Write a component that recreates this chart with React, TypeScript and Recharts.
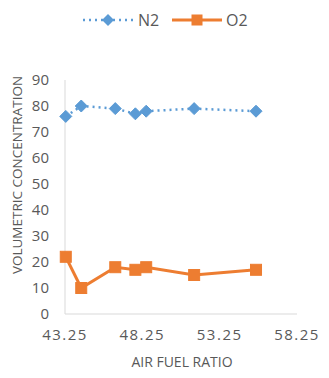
import React from 'react';
import { LineChart, Line, XAxis, YAxis, Legend, Label } from 'recharts';

// air fuel ratio readings
const afr = [43.3, 44.3, 46.5, 47.8, 48.5, 51.6, 55.6];
const n2 = [76, 80, 79, 77, 78, 79, 78];
const o2 = [22, 10, 18, 17, 18, 15, 17];
const xTicks = [43.25, 48.25, 53.25, 58.25];
const yTicks = [0, 10, 20, 30, 40, 50, 60, 70, 80, 90];

const BLUE = '#5B9BD5';
const ORANGE = '#ED7D31';
const GREY = '#595959';
const FONT = '"Open Sans", "Liberation Sans", sans-serif';

const data = afr.map((x, i) => ({ afr: x, N2: n2[i], O2: o2[i] }));

const Diamond = (props: any) => {
  const { cx, cy } = props;
  if (cx == null || cy == null) return null;
  const r = 6;
  return (
    <path
      d={`M${cx},${cy - r}L${cx + r},${cy}L${cx},${cy + r}L${cx - r},${cy}Z`}
      fill={BLUE}
      stroke={BLUE}
    />
  );
};

const Square = (props: any) => {
  const { cx, cy } = props;
  if (cx == null || cy == null) return null;
  const s = 5.5;
  return <rect x={cx - s} y={cy - s} width={s * 2} height={s * 2} fill={ORANGE} stroke={ORANGE} />;
};

const renderLegend = () => (
  <svg width={329} height={24} style={{ display: 'block' }}>
    <line x1={83} y1={12} x2={135} y2={12} stroke={BLUE} strokeWidth={2.5} strokeDasharray="2 4" />
    <path d="M108,6L114,12L108,18L102,12Z" fill={BLUE} />
    <text x={138} y={18} fontSize={16} fill={GREY} fontFamily={FONT}>N2</text>
    <line x1={172} y1={12} x2={222} y2={12} stroke={ORANGE} strokeWidth={3} />
    <rect x={191.5} y={6.5} width={11} height={11} fill={ORANGE} />
    <text x={226} y={18} fontSize={16} fill={GREY} fontFamily={FONT}>O2</text>
  </svg>
);

export default function App() {
  return (
    <div style={{ position: 'absolute', left: 0, top: 0, background: '#fff' }}>
      <LineChart
        width={329}
        height={378}
        data={data}
        margin={{ top: 56, right: 32, bottom: 14, left: 20 }}
      >
        <XAxis
          dataKey="afr"
          type="number"
          domain={[43.25, 58.25]}
          ticks={xTicks}
          tickFormatter={(v: number) => v.toFixed(2)}
          tickLine={false}
          tickMargin={9}
          axisLine={{ stroke: '#D9D9D9' }}
          tick={{ fill: GREY, fontSize: 15, fontFamily: FONT, letterSpacing: 1.5 }}
          height={50}
        >
          <Label
            content={() => (
              <text x={182} y={367} textAnchor="middle" fontSize={14} fill={GREY} fontFamily={FONT}>
                AIR FUEL RATIO
              </text>
            )}
          />
        </XAxis>
        <YAxis
          type="number"
          domain={[0, 90]}
          ticks={yTicks}
          interval={0}
          tickLine={false}
          tickMargin={10}
          axisLine={{ stroke: '#D9D9D9' }}
          tick={{ fill: GREY, fontSize: 15, fontFamily: FONT }}
          width={45}
        >
          <Label
            content={() => (
              <text
                x={22}
                y={175}
                transform="rotate(-90 22 175)"
                textAnchor="middle"
                fontSize={13.5}
                fill={GREY}
                fontFamily={FONT}
              >
                VOLUMETRIC CONCENTRATION
              </text>
            )}
          />
        </YAxis>
        <Legend
          verticalAlign="top"
          content={renderLegend}
          wrapperStyle={{ top: 8, left: 0, width: 329 }}
        />
        <Line
          dataKey="N2"
          stroke={BLUE}
          strokeWidth={2.5}
          strokeDasharray="2 4"
          dot={<Diamond />}
          isAnimationActive={false}
        />
        <Line
          dataKey="O2"
          stroke={ORANGE}
          strokeWidth={3}
          dot={<Square />}
          isAnimationActive={false}
        />
      </LineChart>
    </div>
  );
}
